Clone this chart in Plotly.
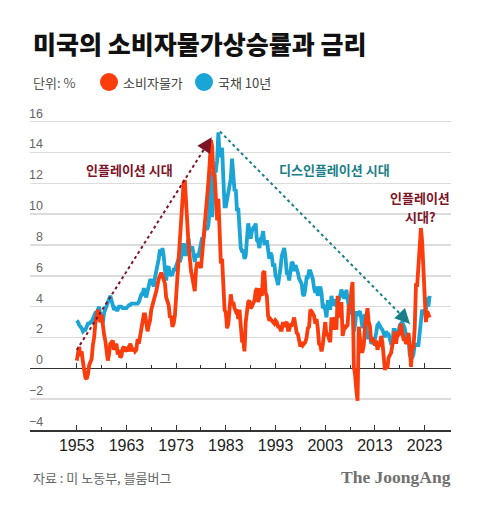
import plotly.graph_objects as go

# ---------------- data (quarterly, starting 1953 Q1) ----------------
start_year = 1953

cpi = [
    0.5, 1.0, 1.4, 0.8,      # 1953
    1.1, 0.4, -0.2, -0.6,    # 1954
    -0.7, -0.4, 0.2, 0.4,    # 1955
    0.6, 1.5, 2.0, 2.9,      # 1956
    3.4, 3.8, 3.4, 3.0,      # 1957
    3.5, 2.6, 2.2, 1.8,      # 1958
    1.2, 0.5, 0.9, 1.6,      # 1959
    1.7, 1.8, 1.2, 1.4,      # 1960
    1.6, 0.9, 1.2, 0.7,      # 1961
    0.8, 1.3, 1.4, 1.1,      # 1962
    1.2, 1.3, 1.1, 1.6,      # 1963
    1.4, 1.1, 1.3, 1.1,      # 1964
    1.2, 1.9, 1.6, 2.0,      # 1965
    2.6, 2.8, 3.5, 3.5,      # 1966
    2.8, 2.4, 2.8, 3.1,      # 1967
    3.8, 4.2, 4.4, 4.7,      # 1968
    5.0, 5.5, 5.8, 6.0,      # 1969
    6.2, 6.0, 5.7, 5.5,      # 1970
    4.6, 4.4, 4.1, 3.3,      # 1971
    3.4, 2.7, 2.9, 3.4,      # 1972
    4.7, 6.0, 7.4, 8.7,      # 1973
    10.0, 10.9, 12.0, 12.2,  # 1974
    10.3, 9.4, 8.0, 7.0,     # 1975
    6.3, 5.9, 5.5, 5.0,      # 1976
    6.4, 6.9, 6.6, 6.7,      # 1977
    6.5, 7.4, 8.3, 9.0,      # 1978
    10.2, 10.9, 12.1, 13.3,  # 1979
    14.8, 14.4, 12.6, 12.5,  # 1980
    10.5, 9.6, 11.0, 8.9,    # 1981
    6.8, 7.1, 5.0, 3.8,      # 1982
    3.6, 2.6, 2.9, 3.8,      # 1983
    4.8, 4.2, 4.3, 3.9,      # 1984
    3.7, 3.8, 3.2, 3.8,      # 1985
    2.2, 1.8, 1.8, 1.1,      # 1986
    3.0, 3.7, 4.3, 4.4,      # 1987
    3.9, 4.0, 4.2, 4.4,      # 1988
    5.0, 5.2, 4.3, 4.6,      # 1989
    5.2, 4.7, 6.2, 6.3,      # 1990
    4.9, 4.7, 3.4, 3.1,      # 1991
    3.2, 3.1, 3.0, 2.9,      # 1992
    3.1, 3.0, 2.7, 2.7,      # 1993
    2.5, 2.5, 3.0, 2.7,      # 1994
    2.9, 3.0, 2.5, 2.5,      # 1995
    2.8, 2.8, 3.0, 3.3,      # 1996
    2.8, 2.3, 2.2, 1.7,      # 1997
    1.4, 1.7, 1.5, 1.6,      # 1998
    1.7, 2.0, 2.6, 2.7,      # 1999
    3.8, 3.7, 3.5, 3.4,      # 2000
    2.9, 3.2, 2.6, 1.6,      # 2001
    1.5, 1.1, 1.5, 2.4,      # 2002
    3.0, 2.1, 2.3, 1.9,      # 2003
    1.7, 3.3, 2.5, 3.3,      # 2004
    3.1, 2.5, 4.7, 3.4,      # 2005
    3.4, 4.3, 2.1, 2.5,      # 2006
    2.8, 2.7, 2.8, 4.1,      # 2007
    4.0, 5.0, 5.6, 0.1,      # 2008
    -0.4, -1.4, -2.1, 2.7,   # 2009
    2.1, 1.1, 1.1, 1.5,      # 2010
    2.7, 3.6, 3.9, 3.0,      # 2011
    2.7, 1.7, 2.0, 1.7,      # 2012
    1.5, 1.8, 1.2, 1.5,      # 2013
    1.5, 2.1, 1.7, 0.8,      # 2014
    -0.1, 0.1, 0.0, 0.7,     # 2015
    0.9, 1.0, 1.5, 2.1,      # 2016
    2.4, 1.6, 2.2, 2.1,      # 2017
    2.4, 2.9, 2.3, 1.9,      # 2018
    1.9, 1.6, 1.7, 2.3,      # 2019
    1.5, 0.1, 1.4, 1.4,      # 2020
    2.6, 5.4, 5.4, 7.0,      # 2021
    8.5, 9.1, 8.2, 6.5,      # 2022
    5.0, 3.0, 3.7, 3.4,      # 2023
    3.3,                     # 2024
]

bond10 = [
    3.1, 3.0, 2.8, 2.7,      # 1953
    2.6, 2.4, 2.5, 2.5,      # 1954
    2.7, 2.9, 2.9, 3.0,      # 1955
    3.0, 3.2, 3.4, 3.6,      # 1956
    3.6, 3.8, 4.0, 3.4,      # 1957
    3.0, 2.9, 3.6, 3.8,      # 1958
    4.0, 4.3, 4.5, 4.7,      # 1959
    4.4, 4.1, 3.8, 3.9,      # 1960
    3.8, 3.8, 4.0, 4.0,      # 1961
    4.0, 3.9, 3.9, 3.9,      # 1962
    3.9, 4.0, 4.1, 4.1,      # 1963
    4.2, 4.2, 4.2, 4.2,      # 1964
    4.2, 4.2, 4.3, 4.6,      # 1965
    4.8, 4.8, 5.2, 4.8,      # 1966
    4.6, 5.0, 5.3, 5.7,      # 1967
    5.7, 5.5, 5.3, 5.9,      # 1968
    6.3, 6.5, 7.1, 7.7,      # 1969
    7.3, 7.8, 7.3, 6.4,      # 1970
    5.7, 6.5, 6.6, 6.0,      # 1971
    6.1, 6.1, 6.4, 6.4,      # 1972
    6.7, 6.9, 7.1, 6.9,      # 1973
    7.2, 8.0, 8.0, 7.4,      # 1974
    7.4, 8.0, 8.4, 7.7,      # 1975
    7.7, 7.9, 7.5, 6.9,      # 1976
    7.4, 7.3, 7.3, 7.7,      # 1977
    8.1, 8.5, 8.4, 9.0,      # 1978
    9.1, 9.0, 9.3, 10.4,     # 1979
    12.8, 9.8, 11.5, 12.8,   # 1980
    12.8, 13.5, 15.3, 13.7,  # 1981
    14.0, 14.3, 12.3, 10.5,  # 1982
    10.5, 10.9, 11.6, 11.8,  # 1983
    12.3, 13.6, 12.6, 11.5,  # 1984
    11.6, 10.2, 10.4, 9.3,   # 1985
    7.8, 7.6, 7.6, 7.1,      # 1986
    7.3, 8.4, 9.4, 8.9,      # 1987
    8.4, 8.9, 9.1, 9.1,      # 1988
    9.4, 8.3, 8.2, 7.8,      # 1989
    8.4, 8.5, 8.9, 8.1,      # 1990
    8.1, 8.3, 7.7, 7.1,      # 1991
    7.5, 7.3, 6.6, 6.8,      # 1992
    6.0, 5.8, 5.4, 5.8,      # 1993
    6.5, 7.3, 7.5, 7.8,      # 1994
    7.2, 6.2, 6.2, 5.7,      # 1995
    6.3, 6.9, 6.8, 6.3,      # 1996
    6.7, 6.5, 6.2, 5.8,      # 1997
    5.6, 5.5, 4.8, 4.7,      # 1998
    5.2, 5.9, 5.9, 6.3,      # 1999
    6.3, 6.1, 5.8, 5.2,      # 2000
    4.9, 5.3, 4.7, 5.1,      # 2001
    5.3, 4.9, 3.9, 4.0,      # 2002
    3.8, 3.3, 4.3, 4.3,      # 2003
    3.8, 4.7, 4.1, 4.2,      # 2004
    4.5, 4.0, 4.2, 4.5,      # 2005
    4.7, 5.1, 4.7, 4.6,      # 2006
    4.6, 5.1, 4.5, 4.1,      # 2007
    3.5, 4.1, 3.7, 2.4,      # 2008
    2.8, 3.7, 3.4, 3.6,      # 2009
    3.7, 3.2, 2.6, 3.3,      # 2010
    3.5, 3.0, 2.0, 2.0,      # 2011
    2.2, 1.6, 1.7, 1.7,      # 2012
    1.9, 2.3, 2.8, 2.9,      # 2013
    2.7, 2.6, 2.5, 2.2,      # 2014
    2.0, 2.4, 2.2, 2.2,      # 2015
    1.9, 1.6, 1.6, 2.5,      # 2016
    2.5, 2.2, 2.2, 2.4,      # 2017
    2.8, 2.9, 3.0, 2.8,      # 2018
    2.6, 2.1, 1.7, 1.9,      # 2019
    0.9, 0.7, 0.7, 0.9,      # 2020
    1.6, 1.5, 1.5, 1.5,      # 2021
    2.3, 3.1, 3.8, 3.6,      # 2022
    3.5, 3.8, 4.6, 4.0,      # 2023
    4.7,                     # 2024
]

dates = [start_year + i * 0.25 for i in range(len(cpi))]

year_ticks = [1953, 1963, 1973, 1983, 1993, 2003, 2013, 2023]
minor_ticks = [1958, 1968, 1978, 1988, 1998, 2008, 2018]
y_ticks = [-4, -2, 0, 2, 4, 6, 8, 10, 12, 14, 16]
y_labels = ["−4", "−2", "0", "2", "4", "6", "8", "10", "12", "14", "16"]

# dotted trend arrows (start, end) in data units
infl_arrow_x = [1953.0, 1980.16]
infl_arrow_y = [1.19, 14.99]
disinfl_arrow_x = [1981.83, 2020.06]
disinfl_arrow_y = [15.36, 2.88]

# ---------------- style ----------------
RED = "#fb3c0c"
BLUE = "#1ba4d6"
DARKRED = "#7d1528"
TEAL = "#1b7f89"
KFONT = "Noto Sans CJK KR"
NFONT = "Liberation Sans"

X_RANGE = [1943.6, 2028.3]
Y_RANGE = [-4, 16.3]

fig = go.Figure()

fig.add_trace(go.Scatter(x=dates, y=bond10, mode="lines",
                         line=dict(color=BLUE, width=3.8),
                         showlegend=False, hoverinfo="skip"))
fig.add_trace(go.Scatter(x=dates, y=cpi, mode="lines",
                         line=dict(color=RED, width=3.8),
                         showlegend=False, hoverinfo="skip"))
fig.add_trace(go.Scatter(x=infl_arrow_x, y=infl_arrow_y, mode="lines",
                         line=dict(color=DARKRED, width=2, dash="dot"),
                         showlegend=False, hoverinfo="skip"))
fig.add_trace(go.Scatter(x=disinfl_arrow_x, y=disinfl_arrow_y, mode="lines",
                         line=dict(color=TEAL, width=2, dash="dot"),
                         showlegend=False, hoverinfo="skip"))
# dummy trace for the zero-line tick axis
fig.add_trace(go.Scatter(x=[None], y=[None], xaxis="x2", yaxis="y",
                         showlegend=False, hoverinfo="skip"))

L, R, T, B = 30, 29, 117, 75
W, H = 480, 505
pw = W - L - R
ph = H - T - B

def px2paper_x(px):
    return (px - L) / pw

def px2paper_y(py):
    return (H - B - py) / ph

annotations = []
# y tick labels (above gridlines, right aligned)
for v, lab in zip(y_ticks, y_labels):
    annotations.append(dict(x=px2paper_x(45), xref="paper", y=v, yref="y",
                            text=lab, showarrow=False, xanchor="right",
                            yanchor="bottom", yshift=-1,
                            font=dict(family=NFONT, size=12.5, color="#666666")))

# arrow heads
annotations.append(dict(x=infl_arrow_x[1], y=infl_arrow_y[1], xref="x", yref="y",
                        ax=1979.1, ay=14.45, axref="x", ayref="y", text="",
                        showarrow=True, arrowhead=2, arrowsize=1.5,
                        arrowwidth=2, arrowcolor=DARKRED))
annotations.append(dict(x=disinfl_arrow_x[1], y=disinfl_arrow_y[1], xref="x", yref="y",
                        ax=2018.8, ay=3.3, axref="x", ayref="y", text="",
                        showarrow=True, arrowhead=2, arrowsize=1.5,
                        arrowwidth=2, arrowcolor=TEAL))

# era labels
annotations.append(dict(x=1963.7, y=12.87, xref="x", yref="y",
                        text="<b>인플레이션 시대</b>", showarrow=False,
                        font=dict(family=KFONT, size=13, color=DARKRED)))
annotations.append(dict(x=2004.9, y=12.87, xref="x", yref="y",
                        text="<b>디스인플레이션 시대</b>", showarrow=False,
                        font=dict(family=KFONT, size=13, color=TEAL)))
annotations.append(dict(x=2022.1, y=11.1, xref="x", yref="y",
                        text="<b>인플레이션</b>", showarrow=False,
                        font=dict(family=KFONT, size=13, color=DARKRED)))
annotations.append(dict(x=2022.1, y=9.85, xref="x", yref="y",
                        text="<b>시대?</b>", showarrow=False,
                        font=dict(family=KFONT, size=13, color=DARKRED)))

# title
annotations.append(dict(x=px2paper_x(31), y=px2paper_y(43), xref="paper", yref="paper",
                        text="미국의 소비자물가상승률과 금리", showarrow=False,
                        xanchor="left", yanchor="middle",
                        font=dict(family=KFONT, size=25, color="#111111", weight=900)))
# legend row
annotations.append(dict(x=px2paper_x(30.5), y=px2paper_y(82), xref="paper", yref="paper",
                        text="단위: %", showarrow=False, xanchor="left", yanchor="middle",
                        font=dict(family=KFONT, size=13, color="#555555")))
annotations.append(dict(x=px2paper_x(121), y=px2paper_y(82), xref="paper", yref="paper",
                        text="소비자물가", showarrow=False, xanchor="left", yanchor="middle",
                        font=dict(family=KFONT, size=13, color="#444444")))
annotations.append(dict(x=px2paper_x(216), y=px2paper_y(82), xref="paper", yref="paper",
                        text="국채 10년", showarrow=False, xanchor="left", yanchor="middle",
                        font=dict(family=KFONT, size=13, color="#444444")))
# source + logo
annotations.append(dict(x=px2paper_x(30.5), y=px2paper_y(477), xref="paper", yref="paper",
                        text="자료 : 미 노동부, 블룸버그", showarrow=False,
                        xanchor="left", yanchor="middle",
                        font=dict(family=KFONT, size=13, color="#666666")))
annotations.append(dict(x=px2paper_x(453), y=px2paper_y(477), xref="paper", yref="paper",
                        text="<b>The JoongAng</b>", showarrow=False,
                        xanchor="right", yanchor="middle",
                        font=dict(family="Liberation Serif", size=17.5, color="#707070")))

shapes = [
    dict(type="circle", xref="paper", yref="paper",
         x0=px2paper_x(100), x1=px2paper_x(118), y0=px2paper_y(91), y1=px2paper_y(73),
         fillcolor=RED, line=dict(width=0)),
    dict(type="circle", xref="paper", yref="paper",
         x0=px2paper_x(195), x1=px2paper_x(213), y0=px2paper_y(91), y1=px2paper_y(73),
         fillcolor=BLUE, line=dict(width=0)),
]

fig.update_layout(
    width=W, height=H,
    margin=dict(l=L, r=R, t=T, b=B, pad=0),
    paper_bgcolor="white", plot_bgcolor="white",
    showlegend=False,
    hovermode=False,
    annotations=annotations,
    shapes=shapes,
    xaxis=dict(range=X_RANGE, tickmode="array", tickvals=year_ticks,
               ticktext=[str(y) for y in year_ticks],
               showgrid=False, zeroline=False,
               showline=True, linecolor="#333333", linewidth=1.5,
               ticks="inside", ticklen=5, tickwidth=1, tickcolor="#333333",
               minor=dict(tickmode="array", tickvals=minor_ticks, ticks="inside",
                          ticklen=3, tickwidth=1, tickcolor="#333333", showgrid=False),
               tickfont=dict(family=NFONT, size=16, color="#222222"),
               fixedrange=True),
    xaxis2=dict(range=X_RANGE, overlaying="x", anchor="free",
                position=(0 - Y_RANGE[0]) / (Y_RANGE[1] - Y_RANGE[0]),
                tickmode="array", tickvals=year_ticks, showticklabels=False,
                showgrid=False, zeroline=False, showline=False,
                ticks="inside", ticklen=5, tickwidth=1, tickcolor="#333333",
                minor=dict(tickmode="array", tickvals=minor_ticks, ticks="inside",
                           ticklen=3, tickwidth=1, tickcolor="#333333", showgrid=False),
                fixedrange=True),
    yaxis=dict(range=Y_RANGE, tickmode="array", tickvals=y_ticks,
               showticklabels=False, ticks="",
               showgrid=True, gridcolor="#dcdcdc", gridwidth=1.5,
               zeroline=True, zerolinecolor="#333333", zerolinewidth=1.5,
               showline=False, fixedrange=True),
)

fig.write_html("out.html",
               config={"displayModeBar": False, "staticPlot": True},
               post_script="document.body.style.margin='0px';document.body.style.overflow='hidden';")
